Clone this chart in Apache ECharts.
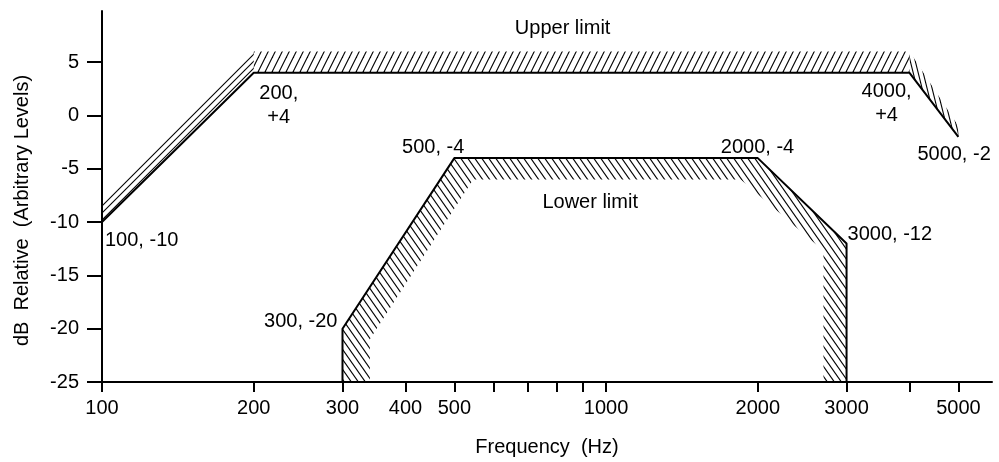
<!DOCTYPE html>
<html>
<head>
<meta charset="utf-8">
<script src="https://cdn.jsdelivr.net/npm/echarts@6/dist/echarts.min.js"></script>
<style>
html,body{margin:0;padding:0;background:#fff;}
#chart{width:999px;height:462px;}
</style>
</head>
<body>
<div id="chart"></div>
<script>
// ---- data ----
const freqTicks = [100, 200, 300, 400, 500, 600, 700, 800, 900, 1000, 2000, 3000, 4000, 5000];
const freqLabels = [100, 200, 300, 400, 500, 1000, 2000, 3000, 5000];
const dbTicks = [-25, -20, -15, -10, -5, 0, 5];

const upperFreq = [100, 200, 4000, 5000];
const upperDb = [-10, 4, 4, -2];
const upperBandFreq = [100, 200, 4000, 5000];
const upperBandDb = [-8, 6, 6, -1];

const lowerFreq = [300, 300, 500, 2000, 3000, 3000];
const lowerDb = [-25, -20, -4, -4, -12, -25];
const lowerBandFreq = [340, 340, 545, 1850, 2700, 2700];
const lowerBandDb = [-25, -21, -6, -6, -12.7, -25];

const pointFreq = [100, 200, 4000, 5000, 500, 2000, 3000, 300];
const pointDb = [-10, 4, 4, -2, -4, -4, -12, -20];
const pointText = ['100, -10', '200,\n+4', '4000,\n+4', '5000, -2', '500, -4', '2000, -4', '3000, -12', '300, -20'];

const regionText = ['Upper limit', 'Lower limit'];
const regionFreq = [820, 930];
const regionDb = [8.2, -8.2];

// ---- styles / layout ----
const FONT = 'Liberation Sans';
const FS = 20;
const pointLabelLayout = [
  { position: [3, 18], align: 'left', verticalAlign: 'middle' },
  { position: [25, 9], align: 'center', verticalAlign: 'top' },
  { position: [-23, 7], align: 'center', verticalAlign: 'top' },
  { position: [-41, 18], align: 'left', verticalAlign: 'middle' },
  { position: [10, -11], align: 'right', verticalAlign: 'middle' },
  { position: [-37, -11], align: 'left', verticalAlign: 'middle' },
  { position: [1, -9], align: 'left', verticalAlign: 'middle' },
  { position: [-5, -7], align: 'right', verticalAlign: 'middle' }
];

function hatch(w, h, forward) {
  const c = document.createElement('canvas');
  c.width = w; c.height = h;
  const g = c.getContext('2d');
  g.strokeStyle = '#000';
  g.lineWidth = 1.1;
  for (let k = -1; k <= 1; k++) {
    const dx = k * w;
    g.beginPath();
    if (forward) { g.moveTo(dx - w, 2 * h); g.lineTo(dx + 2 * w, -h); }
    else { g.moveTo(dx - w, -h); g.lineTo(dx + 2 * w, 2 * h); }
    g.stroke();
  }
  return { image: c, repeat: 'repeat' };
}
// upper band: one hatch per segment (left slope, flat top, right slope)
const upperPatterns = [hatch(7, 7, true), hatch(7, 14, true), hatch(5, 20, false)];
const lowerPattern = hatch(7, 10, false);

function zip(a, b) { return a.map((v, i) => [v, b[i]]); }

function polySeries(pts, pattern) {
  return {
    type: 'custom',
    silent: true,
    z: 1,
    data: pts,
    renderItem: function (params, api) {
      if (params.dataIndex !== 0) return null;
      const coords = pts.map(p => api.coord(p));
      return { type: 'polygon', shape: { points: coords }, style: { fill: pattern, stroke: null } };
    }
  };
}

const upperSegments = [];
for (let i = 0; i < upperFreq.length - 1; i++) {
  upperSegments.push(polySeries([
    [upperFreq[i], upperDb[i]],
    [upperFreq[i + 1], upperDb[i + 1]],
    [upperBandFreq[i + 1], upperBandDb[i + 1]],
    [upperBandFreq[i], upperBandDb[i]]
  ], upperPatterns[i]));
}
const lowerPoly = zip(lowerFreq, lowerDb).concat(zip(lowerBandFreq, lowerBandDb).reverse());

const chart = echarts.init(document.getElementById('chart'), null, { renderer: 'canvas' });
const textStyle = { color: '#000', fontFamily: FONT, fontSize: FS };

const option = {
  animation: false,
  backgroundColor: '#fff',
  grid: { left: 102, right: 7, top: 11, bottom: 80 },
  xAxis: {
    type: 'log',
    logBase: 10,
    min: 100,
    max: 5830,
    name: 'Frequency  (Hz)',
    nameLocation: 'middle',
    nameGap: 55,
    nameTextStyle: textStyle,
    axisLine: { onZero: false, lineStyle: { color: '#000', width: 2 } },
    axisTick: { show: true, length: 10, lineStyle: { color: '#000', width: 2 }, customValues: freqTicks },
    axisLabel: Object.assign({ customValues: freqLabels, margin: 16, formatter: v => String(Math.round(v)) }, textStyle),
    splitLine: { show: false },
    minorTick: { show: false }
  },
  yAxis: {
    type: 'value',
    min: -25,
    max: 9.8,
    interval: 5,
    name: 'dB  Relative  (Arbitrary Levels)',
    nameLocation: 'middle',
    nameGap: 70,
    nameRotate: 90,
    nameTextStyle: Object.assign({ padding: [0, 28, 0, 0] }, textStyle),
    axisLine: { onZero: false, lineStyle: { color: '#000', width: 2 } },
    axisTick: { show: true, length: 15, lineStyle: { color: '#000', width: 2 }, customValues: dbTicks },
    axisLabel: Object.assign({ customValues: dbTicks, margin: 23 }, textStyle),
    splitLine: { show: false }
  },
  series: upperSegments.concat([
    polySeries(lowerPoly, lowerPattern),
    {
      type: 'line', z: 3, silent: true, symbol: 'none',
      data: zip(upperFreq, upperDb),
      lineStyle: { color: '#000', width: 2 }
    },
    {
      type: 'line', z: 3, silent: true, symbol: 'none',
      data: zip(lowerFreq, lowerDb),
      lineStyle: { color: '#000', width: 2 }
    },
    {
      type: 'scatter', z: 4, silent: true, symbolSize: 0,
      itemStyle: { opacity: 1 },
      data: pointFreq.map((f, i) => ({
        value: [f, pointDb[i]],
        label: Object.assign({ show: true, formatter: pointText[i], lineHeight: 24, opacity: 1 }, textStyle, pointLabelLayout[i])
      }))
    },
    {
      type: 'scatter', z: 4, silent: true, symbolSize: 0,
      itemStyle: { opacity: 1 },
      data: regionFreq.map((f, i) => ({
        value: [f, regionDb[i]],
        label: Object.assign({ show: true, formatter: regionText[i], position: [0, 0], align: 'center', verticalAlign: 'middle', opacity: 1 }, textStyle)
      }))
    }
  ])
};
chart.setOption(option);
</script>
</body>
</html>
